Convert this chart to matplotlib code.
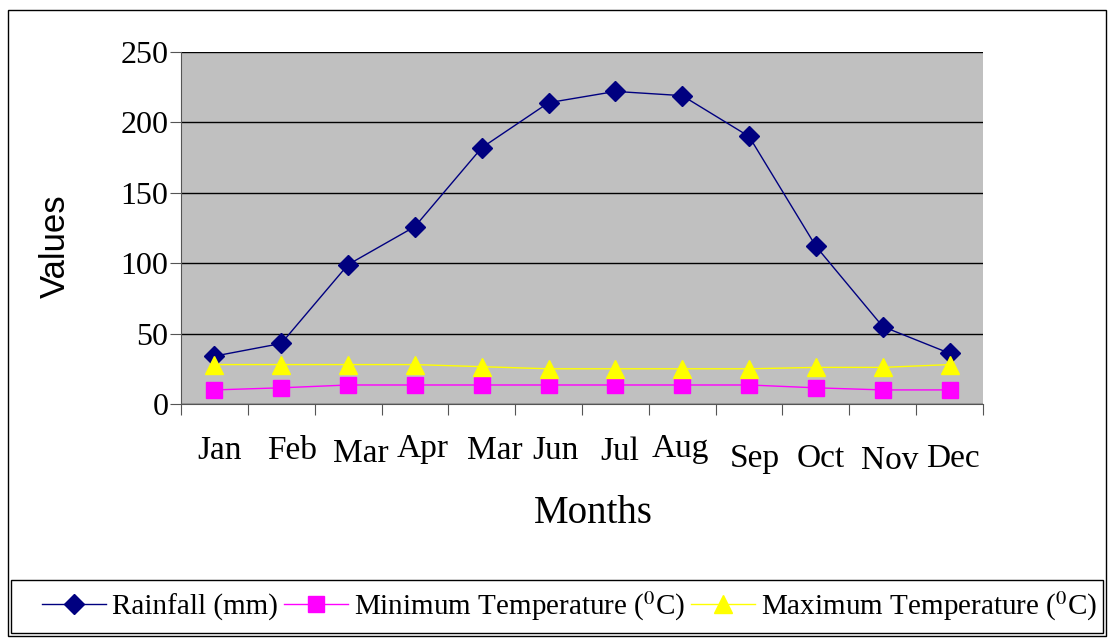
import matplotlib.pyplot as plt
from matplotlib.patches import Rectangle
from matplotlib.transforms import ScaledTranslation

months = ["Jan", "Feb", "Mar", "Apr", "Mar", "Jun", "Jul", "Aug", "Sep", "Oct", "Nov", "Dec"]
rainfall = [34, 43, 99, 126, 182, 214, 222, 219, 190, 112, 55, 36]
min_temp = [10, 11.5, 13.5, 13.5, 13.5, 13.5, 13.5, 13.5, 13.5, 11.5, 10, 10]
max_temp = [28, 28, 28, 28, 26.5, 25, 25, 25, 25, 26, 26, 28]
# the month labels sit slightly off-centre and at uneven heights in the original (pixels)
label_shift = [5, 11, 13, 8, 13, 7, 4, -2, 6, 5, 7, 3]
label_drop = [0, 0, 3, -2, 0, 0, 1, -2, 8, 8, 10, 8]

plt.rcParams["font.family"] = ["Liberation Serif", "DejaVu Serif"]
plt.rcParams["mathtext.fontset"] = "stix"

W, H = 1113, 639
fig = plt.figure(figsize=(W / 100, H / 100), dpi=100)
ax = fig.add_axes([181 / W, 1 - 404 / H, (983 - 181) / W, (404 - 52) / H])

x = list(range(len(months)))
ax.plot(x, rainfall, color="#000080", linewidth=1, marker="D", markersize=10,
        label="Rainfall (mm)")
ax.plot(x, min_temp, color="#FF00FF", linewidth=1, marker="s", markersize=11,
        label="Minimum Temperature ($^{0}$C)")
ax.plot(x, max_temp, color="#FFFF00", linewidth=1, marker="^", markersize=13,
        label="Maximum Temperature ($^{0}$C)")

ax.set_facecolor("#C0C0C0")
ax.set_xlim(-0.5, len(months) - 0.5)
ax.set_ylim(0, 250)
ax.set_yticks(range(0, 251, 50))
ax.yaxis.grid(True, color="black", linewidth=1)
ax.set_axisbelow(True)

ax.set_xticks([i - 0.5 for i in range(len(months) + 1)])
ax.set_xticklabels([])
ax.set_xticks(x, minor=True)
ax.set_xticklabels(months, minor=True)
ax.tick_params(axis="x", which="major", direction="out", length=8, color="#555555")
ax.tick_params(axis="x", which="minor", length=0, pad=23, labelsize=24)
ax.tick_params(axis="y", direction="out", length=8, color="#555555", labelsize=23, pad=1)

for lbl, dx, dy in zip(ax.get_xticklabels(minor=True), label_shift, label_drop):
    lbl.set_transform(lbl.get_transform() + ScaledTranslation(dx / 100, -dy / 100, fig.dpi_scale_trans))

for s in ["top", "right"]:
    ax.spines[s].set_visible(False)
for s in ["left", "bottom"]:
    ax.spines[s].set_color("#555555")

ax.set_xlabel("Months", fontsize=28)
ax.xaxis.set_label_coords(0.5 + 11 / 802, -(523 - 404) / 352, transform=ax.transAxes)
ax.xaxis.label.set_va("baseline")
ax.set_ylabel("Values", fontsize=25, family=["Liberation Sans", "DejaVu Sans"])
ax.yaxis.set_label_coords(-(181 - 72) / 802, 0.5 + (228 - 246) / 352)

# outer frame and legend box
fig.patches.append(Rectangle((8 / W, 1 - 636 / H), 1098 / W, 626 / H, transform=fig.transFigure,
                             fill=False, edgecolor="black", linewidth=1))
fig.patches.append(Rectangle((11 / W, 1 - 633 / H), 1092 / W, 53 / H, transform=fig.transFigure,
                             fill=False, edgecolor="black", linewidth=1))
fig.legend(loc="center left", bbox_to_anchor=(42 / W, 1 - 606 / H), ncol=3, frameon=False,
           fontsize=21, handlelength=2.2, columnspacing=0.2, handletextpad=0.2,
           borderpad=0, borderaxespad=0)

fig.savefig("out.png", dpi=100)
